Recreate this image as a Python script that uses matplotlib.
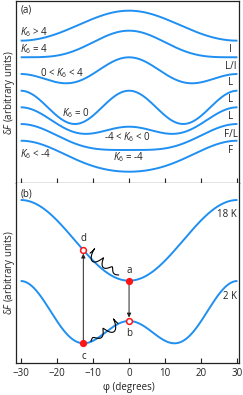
import numpy as np
import matplotlib
matplotlib.use('Agg')
import matplotlib.pyplot as plt

plt.rcParams['font.family'] = ['Open Sans', 'DejaVu Sans']
plt.rcParams['mathtext.fontset'] = 'custom'
plt.rcParams['mathtext.it'] = 'Open Sans:italic'
plt.rcParams['mathtext.rm'] = 'Open Sans'
plt.rcParams['font.size'] = 7

# ---------------- data ----------------
# panel (a): dF(phi) = offset + c6*cos(6 phi) + c12*cos(12 phi)  (arbitrary units)
a_left_labels = [r'$K_6$ > 4', r'$K_6$ = 4', r'0 < $K_6$ < 4', r'$K_6$ = 0',
                 r'-4 < $K_6$ < 0', r'$K_6$ < -4', r'$K_6$ = -4']
a_cos6 = [15.0, 13.3, 8.35, 0.0, -9.7, -13.0, -15.5]
a_cos12 = [0.43, 3.33, 8.3, 16.65, 7.67, 3.25, 1.39]
a_offset = [156.6, 135.4, 108.75, 75.35, 58.03, 42.45, 25.1]
a_right_labels = ['I', 'L/I', 'L', 'L', 'L', 'F/L', 'F']

# panel (b)
b_labels = ['18 K', '2 K']
b_cos6 = [-40.35, -20.0]
b_cos12 = [0.0, 19.9]
b_offset = [122.65, 42.1]
phi_c = -12.66   # position of points c and d (degrees)

x_ticks = [-30, -20, -10, 0, 10, 20, 30]

BLUE = '#1f8ff2'
RED = '#ff1414'
DARK = '#222222'

phi = np.linspace(-30, 30, 601)


def dF(p, c6, c12, off):
    r = np.deg2rad(p)
    return off + c6 * np.cos(6 * r) + c12 * np.cos(12 * r)


fig = plt.figure(figsize=(2.43, 3.95), dpi=100)
L, W = 16 / 243, 222.5 / 243
axa = fig.add_axes([L, 1 - 182.7 / 395, W, 181.7 / 395])
axb = fig.add_axes([L, 1 - 363 / 395, W, 180.3 / 395])

for ax in (axa, axb):
    ax.set_xlim(-31.3, 30.3)
    ax.set_xticks(x_ticks)
    ax.tick_params(axis='x', direction='in', length=3.5, width=0.8, color=DARK,
                   pad=3.5, labelsize=7, labelcolor=DARK)
    ax.set_yticks([])
    for s in ax.spines.values():
        s.set_linewidth(0.9)
        s.set_color(DARK)

axa.set_ylim(0, 181.7)
axb.set_ylim(0, 180.3)
axa.tick_params(axis='x', labelbottom=False)
axb.spines['top'].set_visible(False)

# panel (a) curves
for c6, c12, off in zip(a_cos6, a_cos12, a_offset):
    axa.plot(phi, dF(phi, c6, c12, off), color=BLUE, lw=1.4, solid_capstyle='butt')

left_pos = [(-30.2, 147.7), (-30.2, 130.4), (-24.65, 106.0), (-18.56, 66.0),
            (-6.93, 42.7), (-30.2, 25.4), (-4.43, 22.7)]
for t, (x, y) in zip(a_left_labels, left_pos):
    axa.text(x, y, t, ha='left', va='baseline', color=DARK, fontsize=7)

right_y = [130.4, 113.7, 97.7, 80.4, 63.7, 46.0, 29.4]
for t, y in zip(a_right_labels, right_y):
    axa.text(28.12, y, t, ha='center', va='baseline', color=DARK, fontsize=7)

axa.text(-30.05, 170.0, '(a)', ha='left', va='baseline', color=DARK, fontsize=7)

# panel (b) curves
for c6, c12, off in zip(b_cos6, b_cos12, b_offset):
    axb.plot(phi, dF(phi, c6, c12, off), color=BLUE, lw=1.4, solid_capstyle='butt')

axb.text(29.9, 145.7, b_labels[0], ha='right', va='baseline', color=DARK, fontsize=7)
axb.text(29.9, 64.0, b_labels[1], ha='right', va='baseline', color=DARK, fontsize=7)
axb.text(-30.05, 167.0, '(b)', ha='left', va='baseline', color=DARK, fontsize=7)

ya = dF(0, b_cos6[0], b_cos12[0], b_offset[0])
yb = dF(0, b_cos6[1], b_cos12[1], b_offset[1])
yc = dF(phi_c, b_cos6[1], b_cos12[1], b_offset[1])
yd = dF(phi_c, b_cos6[0], b_cos12[0], b_offset[0])

# arrows
axb.annotate('', xy=(phi_c, yd - 3.5), xytext=(phi_c, yc + 2),
             arrowprops=dict(arrowstyle='-|>', color=DARK, lw=0.7,
                             mutation_scale=6, shrinkA=0, shrinkB=0))
axb.annotate('', xy=(0, yb + 3.5), xytext=(0, ya - 2),
             arrowprops=dict(arrowstyle='-|>', color=DARK, lw=0.7,
                             mutation_scale=6, shrinkA=0, shrinkB=0))

# points
axb.plot([0, phi_c], [ya, yc], 'o', ms=4.2, mfc=RED, mec=RED, mew=1, zorder=5)
axb.plot([0, phi_c], [yb, yd], 'o', ms=4.2, mfc='white', mec=RED, mew=1.1, zorder=5)

axb.text(0, ya + 7.5, 'a', ha='center', va='baseline', color=DARK, fontsize=7)
axb.text(0, yb - 15.5, 'b', ha='center', va='baseline', color=DARK, fontsize=7)
axb.text(phi_c, yc - 15.5, 'c', ha='center', va='baseline', color=DARK, fontsize=7)
axb.text(phi_c, yd + 9.5, 'd', ha='center', va='baseline', color=DARK, fontsize=7)

# wavy lines (phonon squiggles), built in display space
fig.canvas.draw()
T = axb.transData
Ti = T.inverted()


def squiggle(p0, p1, amp0, amp1, ncyc, lean):
    P0 = np.array(T.transform(p0))
    P1 = np.array(T.transform(p1))
    d = P1 - P0
    t = d / np.hypot(*d)
    n = np.array([-t[1], t[0]])
    s = np.linspace(0, 1, 400)
    amp = amp0 + (amp1 - amp0) * s
    th = 2 * np.pi * ncyc * s
    pts = (P0[None, :] + s[:, None] * d[None, :]
           + (amp * np.sin(th))[:, None] * n[None, :]
           + (lean * amp * np.cos(th))[:, None] * t[None, :])
    out = Ti.transform(pts)
    axb.plot(out[:, 0], out[:, 1], color='black', lw=0.8, zorder=4)


squiggle((phi_c + 1.4, yd - 1.5), (-3.0, ya + 6), 6.5, 1.3, 3.0, 0.35)
squiggle((phi_c + 2.0, yc + 2), (-2.6, yb - 1), 1.3, 6.5, 2.5, 0.35)

# axis labels
fig.text(9.5 / 243, 1 - 92 / 395, r'δ$F$ (arbitrary units)', rotation=90,
         ha='center', va='center', color=DARK, fontsize=7)
fig.text(9.5 / 243, 1 - 272.9 / 395, r'δ$F$ (arbitrary units)', rotation=90,
         ha='center', va='center', color=DARK, fontsize=7)
fig.text(129.3 / 243, 1 - 387.3 / 395, 'φ (degrees)', ha='center', va='center',
         color=DARK, fontsize=7)

fig.savefig('out.png', dpi=100)
